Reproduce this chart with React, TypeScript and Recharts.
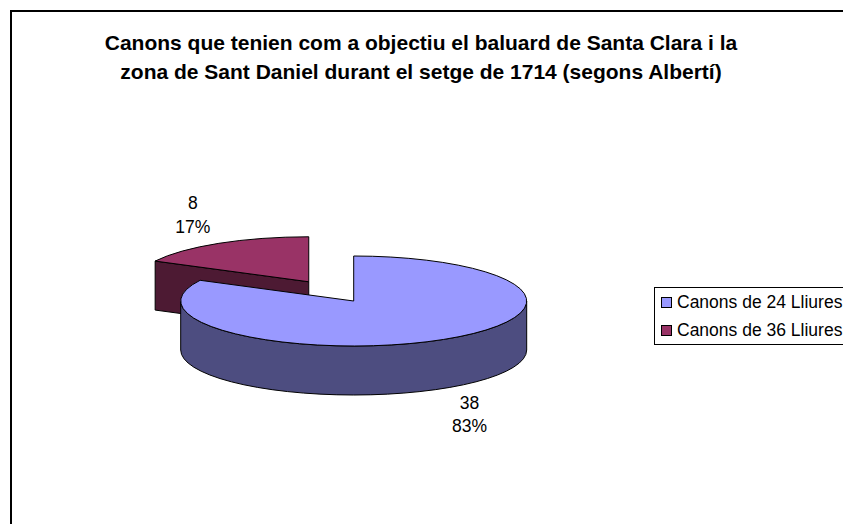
import { PieChart, Pie, Legend } from 'recharts';

const SERIES_NAMES = ['Canons de 24 Lliures', 'Canons de 36 Lliures'];
const SERIES_VALUES = [38, 8];
const TOP_COLORS = ['#9999FF', '#993366'];
const SIDE_COLORS = ['#4D4D80', '#4D1A33'];
const TITLE_LINES = [
  'Canons que tenien com a objectiu el baluard de Santa Clara i la',
  'zona de Sant Daniel durant el setge de 1714 (segons Albertí)',
];
const EXPLODED = 'Canons de 36 Lliures';

const FONT = '"Liberation Sans", Arial, sans-serif';
const SQUASH = 45 / 173; // tilt of the pie
const DEPTH = 49;
const EXPLODE = 0.5;

const total = SERIES_VALUES.reduce((sum, v) => sum + v, 0);

// the exploded slice is listed first so the big one paints over it
const pieData = SERIES_NAMES.map((name, i) => ({
  name,
  value: SERIES_VALUES[i],
  fill: TOP_COLORS[i],
  side: SIDE_COLORS[i],
})).reverse();

const rad = (deg: number) => (deg * Math.PI) / 180;

const centerOf = (p: any) => {
  const rx = p.outerRadius;
  const ry = rx * SQUASH;
  const off = p.name === EXPLODED ? EXPLODE : 0;
  return {
    x: p.cx + Math.cos(rad(p.midAngle)) * rx * off,
    y: p.cy - Math.sin(rad(p.midAngle)) * ry * off,
    rx,
    ry,
  };
};

const Slice3D = (p: any) => {
  const { x, y, rx, ry } = centerOf(p);
  const at = (deg: number) => [x + rx * Math.cos(rad(deg)), y - ry * Math.sin(rad(deg))];
  const [sx, sy] = at(p.startAngle);
  const [ex, ey] = at(p.endAngle);
  const large = p.startAngle - p.endAngle > 180 ? 1 : 0;

  const faces: string[] = [];
  // rim, only the front half is seen
  const rimStart = Math.min(p.startAngle, 0);
  const rimEnd = Math.max(p.endAngle, -180);
  if (rimStart > rimEnd) {
    const [ax, ay] = at(rimStart);
    const [bx, by] = at(rimEnd);
    faces.push(
      `M${ax},${ay}A${rx},${ry} 0 0 1 ${bx},${by}L${bx},${by + DEPTH}A${rx},${ry} 0 0 0 ${ax},${ay + DEPTH}Z`
    );
  }
  // cut face on the leading edge
  if (Math.cos(rad(p.startAngle)) < -0.01) {
    faces.push(`M${sx},${sy}L${x},${y}L${x},${y + DEPTH}L${sx},${sy + DEPTH}Z`);
  }

  return (
    <g>
      {faces.map((d, i) => (
        <path key={i} d={d} fill={p.side} stroke="#000" strokeWidth={1} />
      ))}
      <path
        d={`M${x},${y}L${sx},${sy}A${rx},${ry} 0 ${large} 1 ${ex},${ey}Z`}
        fill={p.fill}
        stroke="#000"
        strokeWidth={1}
      />
    </g>
  );
};

const SliceLabel = (p: any) => {
  const { x, y, rx, ry } = centerOf(p);
  const sin = Math.sin(rad(p.midAngle));
  const lx = x + Math.cos(rad(p.midAngle)) * (rx + 50);
  const ly = y - sin * (ry + 33) + (sin < 0 ? DEPTH - 2 : 0);
  return (
    <text x={lx} y={ly} textAnchor="middle" fontFamily={FONT} fontSize={17.5} fill="#000">
      <tspan x={lx} dy={-6}>{p.value}</tspan>
      <tspan x={lx} dy={23.5}>{`${Math.round(p.percent * 100)}%`}</tspan>
    </text>
  );
};

const LegendBox = () => (
  <div
    style={{
      width: 210,
      height: 58,
      boxSizing: 'border-box',
      border: '1px solid #000',
      background: '#fff',
      fontFamily: FONT,
      fontSize: 17.5,
      color: '#000',
      whiteSpace: 'nowrap',
    }}
  >
    {SERIES_NAMES.map((name) => (
      <div key={name} style={{ height: 28.5, display: 'flex', alignItems: 'center', paddingLeft: 6 }}>
        <span
          style={{
            width: 9,
            height: 9,
            border: '1px solid #000',
            background: TOP_COLORS[SERIES_NAMES.indexOf(name)],
            marginRight: 5,
            flex: 'none',
          }}
        />
        {name}
      </div>
    ))}
  </div>
);

export default function App() {
  return (
    <div style={{ position: 'fixed', left: 0, top: 0, width: 843, height: 524, overflow: 'hidden', background: '#fff' }}>
      <PieChart width={843} height={524} margin={{ top: 0, right: 0, bottom: 0, left: 0 }}>
        <rect x={11} y={11} width={860} height={540} fill="#fff" stroke="#000" strokeWidth={2} />
        {TITLE_LINES.map((line, i) => (
          <text
            key={line}
            x={421}
            y={50 + i * 29}
            textAnchor="middle"
            fontFamily={FONT}
            fontWeight="bold"
            fontSize={21}
            fill="#000"
          >
            {line}
          </text>
        ))}
        <Pie
          data={pieData}
          dataKey="value"
          nameKey="name"
          cx={353.7}
          cy={301}
          innerRadius={0}
          outerRadius={173}
          startAngle={90 + (360 * SERIES_VALUES[1]) / total}
          endAngle={90 + (360 * SERIES_VALUES[1]) / total - 360}
          shape={Slice3D}
          label={SliceLabel}
          labelLine={false}
          isAnimationActive={false}
        />
        <Legend
          content={LegendBox}
          layout="vertical"
          wrapperStyle={{ position: 'absolute', left: 654, top: 287, width: 210, height: 58, bottom: 'auto', right: 'auto' }}
        />
      </PieChart>
    </div>
  );
}
